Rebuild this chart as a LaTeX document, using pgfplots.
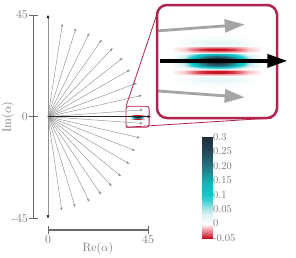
\documentclass[border=0pt]{standalone}
\usepackage{pgfplots}
\pgfplotsset{compat=1.18}
\usepackage{pgfplotstable}
\usetikzlibrary{arrows.meta}
\definecolor{boxcol}{RGB}{178,36,78}
\definecolor{axcol}{RGB}{105,105,105}
\definecolor{txtcol}{RGB}{120,120,120}
\definecolor{fangray}{RGB}{145,145,145}
\definecolor{insetgray}{RGB}{165,165,165}
\pgfplotsset{colormap={wig}{rgb255(0cm)=(200,16,32) rgb255(2cm)=(232,120,128) rgb255(5cm)=(255,255,255) rgb255(8cm)=(222,244,245) rgb255(10cm)=(170,228,230) rgb255(13cm)=(60,208,210) rgb255(15cm)=(20,198,202) rgb255(18cm)=(18,188,194) rgb255(20cm)=(26,168,175) rgb255(25cm)=(36,115,126) rgb255(30cm)=(34,72,88) rgb255(35cm)=(30,44,58)}}
\pgfplotstableread[row sep=\\]{
x y z\\
36.5 -2.22 0\\ 37.5 -2.22 0\\ 38.2 -2.22 0\\ 38.9 -2.22 0\\ 39.6 -2.22 0\\ 40.3 -2.22 0\\ 41.0 -2.22 0\\ 41.7 -2.22 0\\ 42.4 -2.22 0\\ 43.1 -2.22 0\\ 44.1 -2.22 0\\
36.5 -1.81 0.0004\\ 37.5 -1.81 0.0025\\ 38.2 -1.81 0.006\\ 38.9 -1.81 0.0085\\ 39.6 -1.81 0.0097\\ 40.3 -1.81 0.01\\ 41.0 -1.81 0.0097\\ 41.7 -1.81 0.0085\\ 42.4 -1.81 0.006\\ 43.1 -1.81 0.0025\\ 44.1 -1.81 0.0004\\
36.5 -1.56 0.001\\ 37.5 -1.56 0.0063\\ 38.2 -1.56 0.015\\ 38.9 -1.56 0.0213\\ 39.6 -1.56 0.0243\\ 40.3 -1.56 0.025\\ 41.0 -1.56 0.0243\\ 41.7 -1.56 0.0213\\ 42.4 -1.56 0.015\\ 43.1 -1.56 0.0063\\ 44.1 -1.56 0.001\\
36.5 -1.40 0.0008\\ 37.5 -1.40 0.005\\ 38.2 -1.40 0.012\\ 38.9 -1.40 0.017\\ 39.6 -1.40 0.0194\\ 40.3 -1.40 0.02\\ 41.0 -1.40 0.0194\\ 41.7 -1.40 0.017\\ 42.4 -1.40 0.012\\ 43.1 -1.40 0.005\\ 44.1 -1.40 0.0008\\
36.5 -1.23 0\\ 37.5 -1.23 0\\ 38.2 -1.23 0\\ 38.9 -1.23 0\\ 39.6 -1.23 0\\ 40.3 -1.23 0\\ 41.0 -1.23 0\\ 41.7 -1.23 0\\ 42.4 -1.23 0\\ 43.1 -1.23 0\\ 44.1 -1.23 0\\
36.5 -1.11 -0.001\\ 37.5 -1.11 -0.0063\\ 38.2 -1.11 -0.015\\ 38.9 -1.11 -0.0213\\ 39.6 -1.11 -0.0243\\ 40.3 -1.11 -0.025\\ 41.0 -1.11 -0.0243\\ 41.7 -1.11 -0.0213\\ 42.4 -1.11 -0.015\\ 43.1 -1.11 -0.0063\\ 44.1 -1.11 -0.001\\
36.5 -0.99 -0.002\\ 37.5 -0.99 -0.0125\\ 38.2 -0.99 -0.03\\ 38.9 -0.99 -0.0425\\ 39.6 -0.99 -0.0485\\ 40.3 -0.99 -0.05\\ 41.0 -0.99 -0.0485\\ 41.7 -0.99 -0.0425\\ 42.4 -0.99 -0.03\\ 43.1 -0.99 -0.0125\\ 44.1 -0.99 -0.002\\
36.5 -0.86 -0.002\\ 37.5 -0.86 -0.0125\\ 38.2 -0.86 -0.03\\ 38.9 -0.86 -0.0425\\ 39.6 -0.86 -0.0485\\ 40.3 -0.86 -0.05\\ 41.0 -0.86 -0.0485\\ 41.7 -0.86 -0.0425\\ 42.4 -0.86 -0.03\\ 43.1 -0.86 -0.0125\\ 44.1 -0.86 -0.002\\
36.5 -0.74 -0.0008\\ 37.5 -0.74 -0.005\\ 38.2 -0.74 -0.012\\ 38.9 -0.74 -0.017\\ 39.6 -0.74 -0.0194\\ 40.3 -0.74 -0.02\\ 41.0 -0.74 -0.0194\\ 41.7 -0.74 -0.017\\ 42.4 -0.74 -0.012\\ 43.1 -0.74 -0.005\\ 44.1 -0.74 -0.0008\\
36.5 -0.66 0.0012\\ 37.5 -0.66 0.0068\\ 38.2 -0.66 0.0168\\ 38.9 -0.66 0.028\\ 39.6 -0.66 0.0368\\ 40.3 -0.66 0.04\\ 41.0 -0.66 0.0368\\ 41.7 -0.66 0.028\\ 42.4 -0.66 0.0168\\ 43.1 -0.66 0.0068\\ 44.1 -0.66 0.0012\\
36.5 -0.53 0.0036\\ 37.5 -0.53 0.0204\\ 38.2 -0.53 0.0504\\ 38.9 -0.53 0.084\\ 39.6 -0.53 0.1104\\ 40.3 -0.53 0.12\\ 41.0 -0.53 0.1104\\ 41.7 -0.53 0.084\\ 42.4 -0.53 0.0504\\ 43.1 -0.53 0.0204\\ 44.1 -0.53 0.0036\\
36.5 -0.41 0.006\\ 37.5 -0.41 0.034\\ 38.2 -0.41 0.084\\ 38.9 -0.41 0.14\\ 39.6 -0.41 0.184\\ 40.3 -0.41 0.2\\ 41.0 -0.41 0.184\\ 41.7 -0.41 0.14\\ 42.4 -0.41 0.084\\ 43.1 -0.41 0.034\\ 44.1 -0.41 0.006\\
36.5 -0.2 0.0084\\ 37.5 -0.2 0.0476\\ 38.2 -0.2 0.1176\\ 38.9 -0.2 0.196\\ 39.6 -0.2 0.2576\\ 40.3 -0.2 0.28\\ 41.0 -0.2 0.2576\\ 41.7 -0.2 0.196\\ 42.4 -0.2 0.1176\\ 43.1 -0.2 0.0476\\ 44.1 -0.2 0.0084\\
36.5 0 0.009\\ 37.5 0 0.051\\ 38.2 0 0.126\\ 38.9 0 0.21\\ 39.6 0 0.276\\ 40.3 0 0.30\\ 41.0 0 0.276\\ 41.7 0 0.21\\ 42.4 0 0.126\\ 43.1 0 0.051\\ 44.1 0 0.009\\
36.5 0.2 0.0084\\ 37.5 0.2 0.0476\\ 38.2 0.2 0.1176\\ 38.9 0.2 0.196\\ 39.6 0.2 0.2576\\ 40.3 0.2 0.28\\ 41.0 0.2 0.2576\\ 41.7 0.2 0.196\\ 42.4 0.2 0.1176\\ 43.1 0.2 0.0476\\ 44.1 0.2 0.0084\\
36.5 0.41 0.006\\ 37.5 0.41 0.034\\ 38.2 0.41 0.084\\ 38.9 0.41 0.14\\ 39.6 0.41 0.184\\ 40.3 0.41 0.2\\ 41.0 0.41 0.184\\ 41.7 0.41 0.14\\ 42.4 0.41 0.084\\ 43.1 0.41 0.034\\ 44.1 0.41 0.006\\
36.5 0.53 0.0036\\ 37.5 0.53 0.0204\\ 38.2 0.53 0.0504\\ 38.9 0.53 0.084\\ 39.6 0.53 0.1104\\ 40.3 0.53 0.12\\ 41.0 0.53 0.1104\\ 41.7 0.53 0.084\\ 42.4 0.53 0.0504\\ 43.1 0.53 0.0204\\ 44.1 0.53 0.0036\\
36.5 0.66 0.0012\\ 37.5 0.66 0.0068\\ 38.2 0.66 0.0168\\ 38.9 0.66 0.028\\ 39.6 0.66 0.0368\\ 40.3 0.66 0.04\\ 41.0 0.66 0.0368\\ 41.7 0.66 0.028\\ 42.4 0.66 0.0168\\ 43.1 0.66 0.0068\\ 44.1 0.66 0.0012\\
36.5 0.74 -0.0008\\ 37.5 0.74 -0.005\\ 38.2 0.74 -0.012\\ 38.9 0.74 -0.017\\ 39.6 0.74 -0.0194\\ 40.3 0.74 -0.02\\ 41.0 0.74 -0.0194\\ 41.7 0.74 -0.017\\ 42.4 0.74 -0.012\\ 43.1 0.74 -0.005\\ 44.1 0.74 -0.0008\\
36.5 0.86 -0.002\\ 37.5 0.86 -0.0125\\ 38.2 0.86 -0.03\\ 38.9 0.86 -0.0425\\ 39.6 0.86 -0.0485\\ 40.3 0.86 -0.05\\ 41.0 0.86 -0.0485\\ 41.7 0.86 -0.0425\\ 42.4 0.86 -0.03\\ 43.1 0.86 -0.0125\\ 44.1 0.86 -0.002\\
36.5 0.99 -0.002\\ 37.5 0.99 -0.0125\\ 38.2 0.99 -0.03\\ 38.9 0.99 -0.0425\\ 39.6 0.99 -0.0485\\ 40.3 0.99 -0.05\\ 41.0 0.99 -0.0485\\ 41.7 0.99 -0.0425\\ 42.4 0.99 -0.03\\ 43.1 0.99 -0.0125\\ 44.1 0.99 -0.002\\
36.5 1.11 -0.001\\ 37.5 1.11 -0.0063\\ 38.2 1.11 -0.015\\ 38.9 1.11 -0.0213\\ 39.6 1.11 -0.0243\\ 40.3 1.11 -0.025\\ 41.0 1.11 -0.0243\\ 41.7 1.11 -0.0213\\ 42.4 1.11 -0.015\\ 43.1 1.11 -0.0063\\ 44.1 1.11 -0.001\\
36.5 1.23 0\\ 37.5 1.23 0\\ 38.2 1.23 0\\ 38.9 1.23 0\\ 39.6 1.23 0\\ 40.3 1.23 0\\ 41.0 1.23 0\\ 41.7 1.23 0\\ 42.4 1.23 0\\ 43.1 1.23 0\\ 44.1 1.23 0\\
36.5 1.40 0.0008\\ 37.5 1.40 0.005\\ 38.2 1.40 0.012\\ 38.9 1.40 0.017\\ 39.6 1.40 0.0194\\ 40.3 1.40 0.02\\ 41.0 1.40 0.0194\\ 41.7 1.40 0.017\\ 42.4 1.40 0.012\\ 43.1 1.40 0.005\\ 44.1 1.40 0.0008\\
36.5 1.56 0.001\\ 37.5 1.56 0.0063\\ 38.2 1.56 0.015\\ 38.9 1.56 0.0213\\ 39.6 1.56 0.0243\\ 40.3 1.56 0.025\\ 41.0 1.56 0.0243\\ 41.7 1.56 0.0213\\ 42.4 1.56 0.015\\ 43.1 1.56 0.0063\\ 44.1 1.56 0.001\\
36.5 1.81 0.0004\\ 37.5 1.81 0.0025\\ 38.2 1.81 0.006\\ 38.9 1.81 0.0085\\ 39.6 1.81 0.0097\\ 40.3 1.81 0.01\\ 41.0 1.81 0.0097\\ 41.7 1.81 0.0085\\ 42.4 1.81 0.006\\ 43.1 1.81 0.0025\\ 44.1 1.81 0.0004\\
36.5 2.22 0\\ 37.5 2.22 0\\ 38.2 2.22 0\\ 38.9 2.22 0\\ 39.6 2.22 0\\ 40.3 2.22 0\\ 41.0 2.22 0\\ 41.7 2.22 0\\ 42.4 2.22 0\\ 43.1 2.22 0\\ 44.1 2.22 0\\
}\heat
\pgfplotstableread[row sep=\\]{
x y u v\\
0 0 6.5 41.2\\ 0 0 12.6 39.2\\ 0 0 18.6 37.0\\ 0 0 24.2 34.1\\ 0 0 29.1 30.4\\
0 0 33.6 26.0\\ 0 0 36.9 20.8\\ 0 0 40.0 14.9\\ 0 0 42.2 9.4\\ 0 0 42.7 3.0\\
0 0 42.7 -3.0\\ 0 0 41.4 -9.4\\ 0 0 39.2 -15.0\\ 0 0 36.6 -20.9\\ 0 0 32.9 -26.4\\
0 0 28.7 -30.8\\ 0 0 23.9 -34.5\\ 0 0 18.6 -37.7\\ 0 0 12.2 -40.1\\ 0 0 6.2 -41.6\\
}\fan
\begin{document}
\begin{tikzpicture}[x=1pt,y=1pt]
\path[use as bounding box] (0,0) rectangle (296,-257);
% main axis
\begin{axis}[at={(48pt,-218.3pt)}, anchor=south west, scale only axis,
  width=100pt, height=203.3pt, xmin=0, xmax=45, ymin=-45, ymax=45,
  axis lines=none, clip=false, colormap name=wig,
  point meta min=-0.05, point meta max=0.3]
\addplot[surf, shader=interp, mesh/rows=27, mesh/cols=11, point meta=\thisrow{z}] table[x=x,y=y] {\heat};
\addplot[draw=fangray, line width=0.45pt, -{Triangle[length=3pt,width=2.2pt]},
  quiver={u=\thisrow{u}, v=\thisrow{v}}] table[x=x,y=y] {\fan};
\addplot[draw=fangray, line width=0.5pt, -{Triangle[length=3pt,width=2.4pt,black]}] coordinates {(0,0) (0,45)};
\addplot[draw=fangray, line width=0.5pt, -{Triangle[length=3pt,width=2.4pt,black]}] coordinates {(0,0) (0,-45)};
\addplot[black!85, line width=0.8pt, -{Triangle[length=3.5pt,width=3pt]}] coordinates {(0,0) (46.4,0)};
\draw[boxcol, line width=0.9pt, rounded corners=2.5pt] (axis cs:35.1,-4.7) rectangle (axis cs:45.5,4.6);
\end{axis}
% axis bars
\draw[axcol, line width=1.1pt] (33.5,-15) -- (33.5,-218.3);
\foreach \yy in {-15,-116.7,-218.3} \draw[axcol, line width=0.9pt] (29,\yy) -- (38,\yy);
\draw[axcol, line width=1.1pt] (48,-230) -- (148,-230);
\foreach \xx in {48,148} \draw[axcol, line width=0.9pt] (\xx,-226) -- (\xx,-234);
\begin{scope}[font=\fontsize{12}{14}\selectfont, text=txtcol, inner sep=0pt]
\node[anchor=east] at (28,-15) {45};
\node[anchor=east] at (28,-116.7) {0};
\node[anchor=east] at (28,-218.3) {-45};
\node[anchor=north] at (48,-235.5) {0};
\node[anchor=north] at (148,-235.5) {45};
\node at (98,-248) {Re($\alpha$)};
\node[rotate=90] at (8,-117) {Im($\alpha$)};
\end{scope}
% connectors
\draw[boxcol, line width=0.8pt] (126,-106.3) -- (159,-8);
\draw[boxcol, line width=0.8pt] (126,-127.3) -- (272,-118);
\fill[white, rounded corners=10pt] (157,-5) rectangle (277,-118);
% inset axis
\begin{axis}[at={(157pt,-118pt)}, anchor=south west, scale only axis,
  width=120pt, height=113pt, xmin=35.1, xmax=45.5, ymin=-4.7, ymax=4.6,
  axis lines=none, clip=false, colormap name=wig,
  point meta min=-0.05, point meta max=0.3]
\addplot[surf, shader=interp, mesh/rows=27, mesh/cols=11, point meta=\thisrow{z}] table[x=x,y=y] {\heat};
\addplot[draw=insetgray, line width=2.8pt, -{Triangle[length=20pt,width=13pt]}] coordinates {(35.1,2.47) (42.7,3.0)};
\addplot[draw=insetgray, line width=2.8pt, -{Triangle[length=20pt,width=13pt]}] coordinates {(35.1,-2.47) (42.7,-3.0)};
\draw[boxcol, line width=2.5pt, rounded corners=10pt] (rel axis cs:0,0) rectangle (rel axis cs:1,1);
\addplot[black, line width=3.5pt, -{Triangle[length=20pt,width=13pt]}] coordinates {(35.35,0) (46.4,0)};
\end{axis}
% colorbar
\begin{axis}[at={(202pt,-238pt)}, anchor=south west, scale only axis,
  width=10pt, height=101pt, xmin=0, xmax=1, ymin=-0.05, ymax=0.3,
  xtick=\empty, ytick={-0.05,0,0.05,0.1,0.15,0.2,0.25,0.3},
  yticklabels={-0.05,0,0.05,0.1,0.15,0.20,0.25,0.3},
  ytick pos=right, yticklabel pos=right, tick align=inside,
  major tick length=1.5pt, tick style={gray!70, line width=0.3pt},
  axis line style={gray!35, line width=0.3pt},
  yticklabel style={font=\fontsize{10.5}{12}\selectfont, text=txtcol, inner sep=1pt},
  colormap name=wig, point meta min=-0.05, point meta max=0.3]
\addplot[surf, shader=interp, mesh/cols=2, point meta=\thisrow{c}] table[row sep=\\]{
x y c\\ 0 -0.05 -0.05\\ 1 -0.05 -0.05\\ 0 -0.03 -0.03\\ 1 -0.03 -0.03\\
0 0 0\\ 1 0 0\\ 0 0.02 0.02\\ 1 0.02 0.02\\ 0 0.05 0.05\\ 1 0.05 0.05\\
0 0.08 0.08\\ 1 0.08 0.08\\ 0 0.1 0.1\\ 1 0.1 0.1\\ 0 0.13 0.13\\ 1 0.13 0.13\\
0 0.15 0.15\\ 1 0.15 0.15\\ 0 0.2 0.2\\ 1 0.2 0.2\\ 0 0.25 0.25\\ 1 0.25 0.25\\
0 0.3 0.3\\ 1 0.3 0.3\\
};
\end{axis}
\end{tikzpicture}
\end{document}
